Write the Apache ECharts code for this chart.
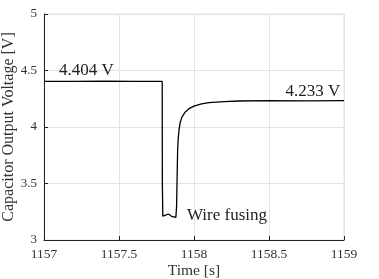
<!DOCTYPE html>
<html lang="en">
<head>
    <meta charset="UTF-8">
    <title>Capacitor voltage</title>
    <script src="https://cdn.jsdelivr.net/npm/echarts@6/dist/echarts.min.js"></script>
    <style>
        html, body { margin: 0; padding: 0; background: #fff; }
        #main { width: 379px; height: 279px; }
    </style>
</head>
<body>
    <div id="main"></div>
    <script type="text/javascript">
        const time = [1157, 1157.2, 1157.4, 1157.6, 1157.788, 1157.789, 1157.792, 1157.81, 1157.83, 1157.84,
            1157.85, 1157.865, 1157.879, 1157.884, 1157.888, 1157.891, 1157.895, 1157.9, 1157.907, 1157.92,
            1157.94, 1157.97, 1158.0, 1158.05, 1158.1, 1158.2, 1158.3, 1158.5, 1158.75, 1159]
        const voltage = [4.404, 4.403, 4.405, 4.404, 4.404, 3.5, 3.21, 3.22, 3.23, 3.225,
            3.21, 3.205, 3.2, 3.3, 3.6, 3.8, 3.9, 3.97, 4.035, 4.09,
            4.13, 4.165, 4.185, 4.205, 4.215, 4.225, 4.23, 4.233, 4.232, 4.233]
        const labels = ['4.404 V', '4.233 V', 'Wire fusing']
        const labelAt = [[1157.1, 4.5], [1158.975, 4.315], [1157.953, 3.22]]
        const labelAlign = ['left', 'right', 'left']

        const font = '"Liberation Serif", "DejaVu Serif", serif'
        let chart = echarts.init(document.getElementById('main'))
        let series = [{
            type: 'line',
            data: time.map((t, i) => [t, voltage[i]]),
            showSymbol: false,
            lineStyle: { color: '#000', width: 1.3 },
            animation: false,
            silent: true,
            markPoint: {
                symbol: 'circle',
                symbolSize: 0,
                silent: true,
                data: labels.map((s, i) => ({
                    coord: labelAt[i],
                    label: {
                        show: true,
                        formatter: s,
                        position: 'inside',
                        align: labelAlign[i],
                        verticalAlign: 'middle',
                        color: '#222',
                        fontFamily: font,
                        fontSize: 17
                    }
                }))
            }
        }]
        chart.setOption({
            backgroundColor: '#fff',
            animation: false,
            grid: {
                left: 44, right: 35, top: 14, bottom: 39, outerBoundsMode: 'none',
                show: true, borderColor: '#e2e2e2', borderWidth: 1
            },
            xAxis: {
                type: 'value', min: 1157, max: 1159, interval: 0.5,
                name: 'Time [s]', nameLocation: 'middle', nameGap: 23, nameMoveOverlap: false,
                nameTextStyle: { fontFamily: font, fontSize: 15.5, color: '#333' },
                axisLine: { lineStyle: { color: '#222', width: 1 } },
                axisTick: { inside: true, length: 4, lineStyle: { color: '#222' } },
                axisLabel: { fontFamily: font, fontSize: 13.5, color: '#333', margin: 7, formatter: v => String(v) },
                splitLine: { lineStyle: { color: '#e2e2e2' } }
            },
            yAxis: {
                type: 'value', min: 3, max: 5, interval: 0.5,
                name: 'Capacitor Output Voltage [V]', nameLocation: 'middle', nameGap: 27.5, nameMoveOverlap: false,
                nameTextStyle: { fontFamily: font, fontSize: 16, color: '#333' },
                axisLine: { show: true, lineStyle: { color: '#222', width: 1 } },
                axisTick: { show: true, inside: true, length: 4, lineStyle: { color: '#222' } },
                axisLabel: { fontFamily: font, fontSize: 13, color: '#333', margin: 7, formatter: v => String(v) },
                splitLine: { lineStyle: { color: '#e2e2e2' } }
            },
            series: series
        })
    </script>
</body>
</html>
